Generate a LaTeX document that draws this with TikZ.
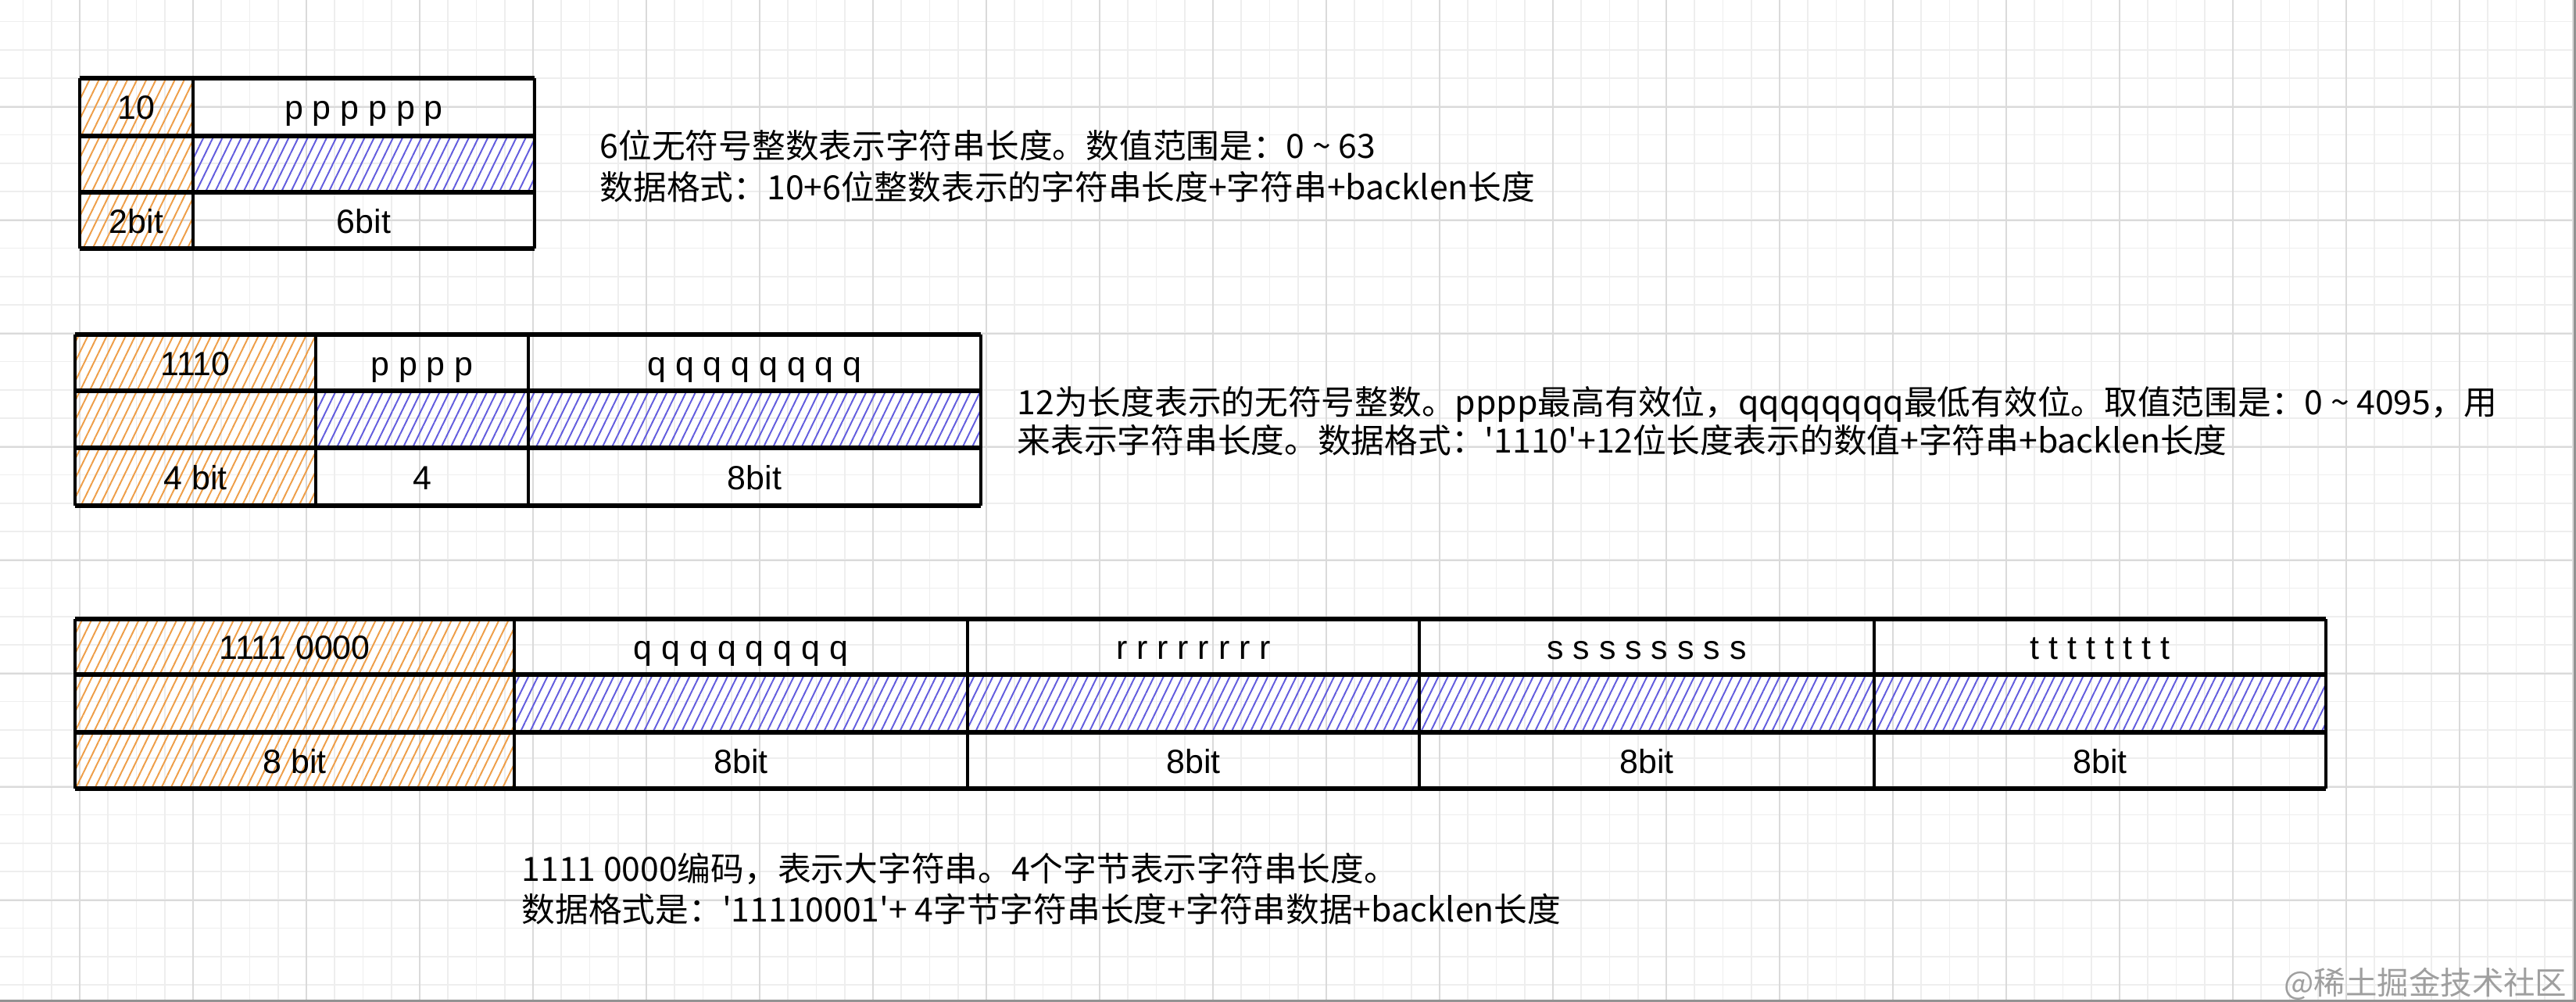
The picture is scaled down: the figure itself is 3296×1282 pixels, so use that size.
\documentclass[tikz,border=0pt]{standalone}
\usepackage{fontspec}
\setmainfont{Liberation Sans}
\newfontfamily\cjk{Noto Sans CJK SC}
\usetikzlibrary{patterns.meta}
\definecolor{hatchorange}{RGB}{238,158,72}
\definecolor{hatchblue}{RGB}{98,92,222}
\definecolor{gridminor}{RGB}{238,238,238}
\definecolor{gridmajor}{RGB}{218,218,218}
\tikzset{
	hatchA/.style={pattern={Lines[angle=64,distance=3.1pt,line width=0.55pt]},pattern color=hatchorange},
	hatchB/.style={pattern={Lines[angle=64,distance=3.1pt,line width=0.55pt]},pattern color=hatchblue},
	hline/.style={line width=1.7pt},
	vline/.style={line width=1pt},
	lbl/.style={font=\fontsize{12.2}{14}\selectfont,inner sep=0pt,anchor=base},
	note/.style={font=\cjk\fontsize{12.15}{14}\selectfont,inner sep=0pt,anchor=base west}
}
\begin{document}
\begin{tikzpicture}[x=0.01cm,y=-0.01cm]
	\useasboundingbox (0,0) rectangle (3296,1282);
	\fill[white] (0,0) rectangle (3296,1282);
	\foreach \k in {-2,...,88} \draw[gridminor,line width=0.5pt] ({102+36.25*\k},0)--({102+36.25*\k},1282);
	\foreach \k in {-2,...,32} \draw[gridminor,line width=0.5pt] (0,{100+36.25*\k})--(3296,{100+36.25*\k});
	\foreach \k in {0,...,22} \draw[gridmajor,line width=0.6pt] ({102+145*\k},0)--({102+145*\k},1282);
	\foreach \k in {0,...,7} \draw[gridmajor,line width=0.6pt] (0,{137+145*\k})--(3296,{137+145*\k});
	\draw[gray!85,line width=1pt] (3294.5,0)--(3294.5,1282) (0,1280.5)--(3296,1280.5);
	% 10 + 6bit
	\path[hatchA] (102,100) rectangle (247,318);
	\path[hatchB] (247,174) rectangle (684,246);
	\foreach \y in {100,174,246,318} \draw[hline] (102,\y)--(684,\y);
	\foreach \x in {102,247,684} \draw[vline] (\x,100)--(\x,318);
	\node[lbl] (ha) at (174.5,153) {10};
	\node[lbl] (pa) at (465.5,153) {p p p p p p};
	\node[lbl] (ba) at (174.5,298) {2bit};
	\node[lbl] (bb) at (465.5,298) {6bit};
	\node[note] (na) at (767,203) {6位无符号整数表示字符串长度。数值范围是：0 \textasciitilde{} 63};
	\node[note] (nb) at (767,256) {数据格式：10+6位整数表示的字符串长度+字符串+backlen长度};
	% 1110 + 12bit
	\path[hatchA] (96,428) rectangle (404,647);
	\path[hatchB] (404,500) rectangle (1255,573);
	\foreach \y in {428,500,573,647} \draw[hline] (96,\y)--(1255,\y);
	\foreach \x in {96,404,676,1255} \draw[vline] (\x,428)--(\x,647);
	\node[lbl] (hb) at (250,480) {1110};
	\node[lbl] (pb) at (540,480) {p p p p};
	\node[lbl] (qb) at (965.5,480) {q q q q q q q q};
	\node[lbl] (bc) at (250,626) {4 bit};
	\node[lbl] (bd) at (540,626) {4};
	\node[lbl] (be) at (965.5,626) {8bit};
	\node[note] (nc) at (1301,530) {12为长度表示的无符号整数。pppp最高有效位，qqqqqqqq最低有效位。取值范围是：0 \textasciitilde{} 4095，用};
	\node[note] (nd) at (1301,579) {来表示字符串长度。数据格式：\textquotesingle 1110\textquotesingle+12位长度表示的数值+字符串+backlen长度};
	% 1111 0000 + 4 byte
	\path[hatchA] (96,792) rectangle (658,1009);
	\path[hatchB] (658,863) rectangle (2976,937);
	\foreach \y in {792,863,937,1009} \draw[hline] (96,\y)--(2976,\y);
	\foreach \x in {96,658,1238,1816,2398,2976} \draw[vline] (\x,792)--(\x,1009);
	\node[lbl] (hc) at (377,843) {1111 0000};
	\node[lbl] (qc) at (948,843) {q q q q q q q q};
	\node[lbl] (rc) at (1527,843) {r r r r r r r r};
	\node[lbl] (sc) at (2107,843) {s s s s s s s s};
	\node[lbl] (tc) at (2687,843) {t t t t t t t t};
	\node[lbl] (bf) at (377,989) {8 bit};
	\foreach \x/\n in {948/bg,1527/bh,2107/bi,2687/bj} \node[lbl] (\n) at (\x,989) {8bit};
	\node[note] (ne) at (667,1127) {1111 0000编码，表示大字符串。4个字节表示字符串长度。};
	\node[note] (nf) at (667,1179) {数据格式是：\textquotesingle 11110001\textquotesingle+ 4字节字符串长度+字符串数据+backlen长度};
	\node[font=\cjk\fontsize{11.5}{14}\selectfont,text=gray!75,inner sep=0pt,anchor=base east] (wm) at (3285,1272) {@稀土掘金技术社区};
\end{tikzpicture}
\end{document}
